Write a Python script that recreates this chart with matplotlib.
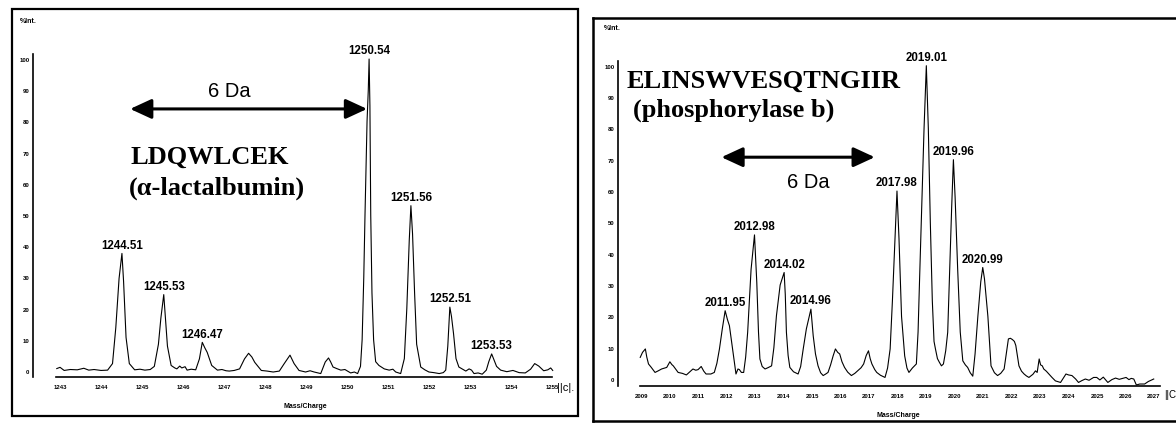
import numpy as np
import matplotlib
matplotlib.use("Agg")
import matplotlib.pyplot as plt
import matplotlib.lines as mlines
import matplotlib.patches as mpatches

# ─────────────────────────────────────────
# DATA
# ─────────────────────────────────────────
# alpha-lactalbumin peptide LDQWLCEK
lact_mz = [1242.92, 1243.00, 1243.10, 1243.25, 1243.42, 1243.58, 1243.70, 1243.83, 1244.00,
           1244.16, 1244.28, 1244.36, 1244.44, 1244.51, 1244.55, 1244.61, 1244.69, 1244.82,
           1244.95, 1245.07, 1245.20, 1245.30, 1245.40, 1245.46, 1245.53, 1245.57, 1245.62,
           1245.71, 1245.80, 1245.85, 1245.92, 1245.97, 1246.05, 1246.10, 1246.20, 1246.31,
           1246.40, 1246.47, 1246.53, 1246.59, 1246.70, 1246.84, 1246.95, 1247.05, 1247.13,
           1247.25, 1247.38, 1247.50, 1247.60, 1247.68, 1247.75, 1247.91, 1248.05, 1248.20,
           1248.35, 1248.47, 1248.61, 1248.71, 1248.83, 1248.99, 1249.10, 1249.20, 1249.36,
           1249.47, 1249.55, 1249.60, 1249.66, 1249.75, 1249.85, 1249.95, 1250.09, 1250.18,
           1250.26, 1250.33, 1250.37, 1250.41, 1250.44, 1250.49, 1250.52, 1250.54, 1250.56,
           1250.58, 1250.61, 1250.65, 1250.70, 1250.78, 1250.85, 1250.91, 1251.03, 1251.12,
           1251.19, 1251.31, 1251.40, 1251.46, 1251.52, 1251.56, 1251.60, 1251.65, 1251.70,
           1251.80, 1251.90, 1252.00, 1252.12, 1252.25, 1252.35, 1252.41, 1252.46, 1252.51,
           1252.55, 1252.60, 1252.66, 1252.73, 1252.82, 1252.90, 1252.98, 1253.04, 1253.10,
           1253.20, 1253.30, 1253.40, 1253.46, 1253.53, 1253.58, 1253.65, 1253.75, 1253.90,
           1254.05, 1254.20, 1254.35, 1254.48, 1254.58, 1254.68, 1254.80, 1254.90, 1254.97,
           1255.02]
lact_int = [0.8, 1.2, 0.2, 0.5, 0.4, 0.9, 0.3, 0.5, 0.2,
            0.3, 2.4, 13.9, 29.7, 37.7, 28.7, 10.8, 2.4, 0.4,
            0.6, 0.3, 0.5, 1.5, 8.6, 17.0, 24.5, 17.0, 8.0,
            1.8, 1.0, 0.7, 1.6, 1.0, 1.4, 0.3, 0.6, 0.4,
            3.9, 9.2, 7.5, 6.0, 1.8, 0.3, 0.5, 0.1, 0.0,
            0.2, 0.7, 3.9, 5.7, 4.5, 2.8, 0.2, 0.0, -0.3,
            0.0, 2.4, 5.1, 2.4, 0.2, -0.3, 0.1, -0.3, -0.8,
            2.9, 4.2, 3.0, 1.3, 0.8, 0.3, 0.5, -0.6, -0.3,
            -0.8, 1.5, 10.0, 30.0, 50.0, 80.0, 90.0, 100.0, 85.0,
            50.0, 25.0, 10.0, 3.0, 1.8, 1.2, 0.7, 0.3, 0.6,
            -0.3, -0.8, 4.0, 20.0, 42.0, 53.0, 44.0, 25.0, 8.6,
            1.3, 0.4, -0.3, -0.5, -0.8, -0.5, 0.3, 8.0, 20.5,
            17.5, 12.0, 4.0, 1.3, 0.6, 0.0, 0.7, 0.3, -0.8,
            -0.6, -1.0, 0.3, 3.0, 5.5, 3.8, 1.5, 0.3, -0.2,
            0.2, -0.5, -0.6, 0.6, 2.4, 1.6, 0.1, 0.4, 1.0,
            0.2]
lact_peaks = [1244.51, 1245.53, 1246.47, 1250.54, 1251.56, 1252.51, 1253.53]
lact_ticks = list(range(1243, 1256))

# phosphorylase b peptide ELINSWVESQTNGIIR
phos_mz = [2008.97, 2009.05, 2009.15, 2009.20, 2009.26, 2009.35, 2009.49, 2009.60, 2009.72,
           2009.90, 2010.01, 2010.08, 2010.13, 2010.30, 2010.45, 2010.59, 2010.70, 2010.82,
           2010.92, 2011.00, 2011.11, 2011.20, 2011.28, 2011.45, 2011.57, 2011.66, 2011.75,
           2011.85, 2011.95, 2012.03, 2012.10, 2012.21, 2012.33, 2012.40, 2012.45, 2012.52,
           2012.60, 2012.67, 2012.74, 2012.86, 2012.98, 2013.06, 2013.12, 2013.17, 2013.25,
           2013.35, 2013.45, 2013.58, 2013.66, 2013.75, 2013.88, 2014.02, 2014.06, 2014.10,
           2014.16, 2014.22, 2014.35, 2014.51, 2014.60, 2014.69, 2014.80, 2014.96, 2015.04,
           2015.12, 2015.21, 2015.30, 2015.39, 2015.48, 2015.56, 2015.65, 2015.74, 2015.82,
           2015.90, 2015.97, 2016.05, 2016.14, 2016.25, 2016.38, 2016.50, 2016.61, 2016.72,
           2016.81, 2016.90, 2016.98, 2017.04, 2017.10, 2017.20, 2017.27, 2017.40, 2017.56,
           2017.65, 2017.74, 2017.82, 2017.91, 2017.98, 2018.05, 2018.14, 2018.25, 2018.33,
           2018.40, 2018.52, 2018.66, 2018.72, 2018.77, 2018.85, 2018.93, 2019.01, 2019.08,
           2019.15, 2019.22, 2019.28, 2019.33, 2019.40, 2019.47, 2019.54, 2019.61, 2019.69,
           2019.76, 2019.83, 2019.90, 2019.96, 2020.02, 2020.11, 2020.20, 2020.29, 2020.38,
           2020.46, 2020.55, 2020.64, 2020.72, 2020.82, 2020.92, 2020.99, 2021.05, 2021.17,
           2021.28, 2021.40, 2021.51, 2021.62, 2021.74, 2021.80, 2021.89, 2021.96, 2022.03,
           2022.10, 2022.15, 2022.26, 2022.35, 2022.44, 2022.52, 2022.61, 2022.75, 2022.84,
           2022.90, 2022.97, 2023.02, 2023.08, 2023.13, 2023.22, 2023.31, 2023.42, 2023.54,
           2023.72, 2023.82, 2023.91, 2024.00, 2024.12, 2024.25, 2024.35, 2024.47, 2024.59,
           2024.72, 2024.88, 2024.99, 2025.10, 2025.22, 2025.38, 2025.52, 2025.65, 2025.78,
           2025.90, 2026.02, 2026.12, 2026.20, 2026.29, 2026.38, 2026.50, 2026.67, 2026.80,
           2026.99]
phos_int = [6.9, 8.5, 9.6, 7.0, 4.8, 3.8, 2.1, 2.6, 3.2,
            3.7, 5.5, 4.6, 4.2, 2.1, 1.8, 1.3, 2.2, 3.2,
            2.8, 3.0, 4.0, 2.5, 1.6, 1.6, 2.1, 5.0, 9.6,
            16.0, 21.8, 19.0, 17.0, 9.6, 1.6, 3.2, 3.0, 2.1,
            2.1, 7.0, 14.9, 35.0, 46.0, 30.9, 15.0, 6.4, 4.0,
            3.2, 3.6, 4.2, 10.0, 20.2, 30.0, 34.0, 27.0, 14.9,
            7.5, 3.7, 2.3, 1.6, 4.0, 9.6, 16.0, 22.3, 13.8,
            8.0, 4.2, 2.0, 1.1, 1.6, 2.1, 4.5, 7.4, 9.6,
            8.5, 8.0, 5.5, 3.7, 2.2, 1.1, 1.8, 2.7, 3.6,
            4.8, 7.5, 9.0, 6.5, 4.8, 3.0, 2.1, 1.2, 0.5,
            3.5, 9.6, 25.0, 45.0, 60.0, 45.0, 20.0, 7.4, 3.5,
            2.1, 3.5, 4.8, 15.0, 30.9, 55.0, 80.0, 100.0, 80.0,
            50.0, 25.0, 12.0, 9.6, 6.5, 5.3, 4.2, 4.8, 9.0,
            14.9, 35.0, 55.0, 70.0, 58.0, 35.0, 15.0, 5.8, 4.5,
            3.7, 2.0, 0.9, 8.0, 20.2, 31.0, 35.6, 32.0, 20.0,
            4.2, 2.0, 1.1, 1.8, 3.2, 7.0, 12.8, 13.0, 12.6,
            12.0, 10.7, 4.2, 2.5, 1.6, 1.0, 0.5, 1.5, 2.6,
            2.1, 6.4, 4.5, 4.2, 3.2, 2.5, 1.6, 0.5, -0.6,
            -1.1, 0.3, 1.6, 1.3, 1.1, 0.0, -1.1, -0.5, 0.0,
            -0.4, 0.5, 0.5, -0.3, 0.6, -1.1, -0.2, 0.3, -0.1,
            0.2, 0.5, -0.2, 0.2, 0.0, -1.9, -1.6, -1.6, -0.8,
            0.0]
phos_peaks = [2011.95, 2012.98, 2014.02, 2014.96, 2017.98, 2019.01, 2019.96, 2020.99]
phos_ticks = list(range(2009, 2028))

y_ticks = list(range(0, 101, 10))

# ─────────────────────────────────────────
# STYLE
# ─────────────────────────────────────────
W, H = 1176, 427
SERIF = ["Liberation Serif", "DejaVu Serif"]
SANS = ["Liberation Sans", "DejaVu Sans"]
NARROW = ["Liberation Sans Narrow", "Liberation Sans", "DejaVu Sans"]


def fx(px):
    return px / W


def fy(py):
    return 1 - py / H


def draw_spectrum(ax, mz, inten, peaks, ticks, xlim, ylim, xspan):
    ax.plot(mz, inten, color="black", lw=0.8)
    ax.set_xlim(*xlim)
    ax.set_ylim(*ylim)
    ax.patch.set_alpha(0)
    for s in ("top", "right"):
        ax.spines[s].set_visible(False)
    ax.spines["left"].set_linewidth(1.2)
    ax.spines["bottom"].set_linewidth(1.2)
    ax.spines["bottom"].set_bounds(*xspan)

    ax.set_xticks(ticks)
    ax.set_xticklabels([str(t) for t in ticks], fontsize=4.3,
                       fontweight="bold", family=NARROW)
    ax.set_yticks(y_ticks)
    ax.set_yticklabels([str(t) for t in y_ticks], fontsize=4.3,
                       fontweight="bold", family=NARROW)
    ax.tick_params(axis="x", length=0, pad=5)
    ax.tick_params(axis="y", length=0, pad=2.5)

    mz_arr = np.asarray(mz)
    for p in peaks:
        i = int(np.argmin(np.abs(mz_arr - p)))
        ax.annotate(f"{p:.2f}", xy=(mz[i], inten[i]), xytext=(0, 2),
                    textcoords="offset points", ha="center", va="bottom",
                    fontsize=8.3, fontweight="bold", family=NARROW)


def double_arrow(ax, x0, x1, y):
    ax.annotate("", xy=(x1, y), xytext=(x0, y),
                arrowprops=dict(arrowstyle="<|-|>,head_length=0.65,head_width=0.3",
                                mutation_scale=20, lw=2.2, color="black",
                                shrinkA=0, shrinkB=0))


fig = plt.figure(figsize=(W / 100, H / 100), dpi=100)

# panel frames
fig.patches.append(mpatches.Rectangle((fx(12), fy(417)), fx(578) - fx(12), fy(10) - fy(417),
                                      transform=fig.transFigure, fill=False,
                                      lw=1.6, edgecolor="black"))
for xs, ys in [([593, 593], [18.5, 422]), ([593, 1176], [18.5, 18.5]), ([593, 1176], [422, 422])]:
    fig.lines.append(mlines.Line2D([fx(v) for v in xs], [fy(v) for v in ys],
                                   transform=fig.transFigure, color="black", lw=1.8))

# ── left panel
ax1 = fig.add_axes([fx(33), fy(378), fx(556) - fx(33), fy(55) - fy(378)])
draw_spectrum(ax1, lact_mz, lact_int, lact_peaks, lact_ticks,
              (1242.34, 1255.10), (-1.9, 101.6), (1242.91, 1255.0))
double_arrow(ax1, 1244.71, 1250.49, 84)
ax1.text(1247.13, 89.8, "6 Da", ha="center", va="center", fontsize=14.5, family=SANS)
ax1.text(1244.72, 68.9, "LDQWLCEK", ha="left", va="center", fontsize=19,
         fontweight="bold", family=SERIF)
ax1.text(1244.68, 59.0, "(\u03b1-lactalbumin)", ha="left", va="center", fontsize=19,
         fontweight="bold", family=SERIF)

# ── right panel
ax2 = fig.add_axes([fx(618), fy(386.9), fx(1160) - fx(618), fy(61.7) - fy(386.9)])
draw_spectrum(ax2, phos_mz, phos_int, phos_peaks, phos_ticks,
              (2008.19, 2027.21), (-2.2, 101.6), (2008.97, 2027.2))
double_arrow(ax2, 2011.82, 2017.20, 70.8)
ax2.text(2014.86, 63.0, "6 Da", ha="center", va="center", fontsize=14.5, family=SANS)
ax2.text(2008.48, 95.2, "ELINSWVESQTNGIIR", ha="left", va="center", fontsize=19,
         fontweight="bold", family=SERIF)
ax2.text(2008.70, 86.2, "(phosphorylase b)", ha="left", va="center", fontsize=19,
         fontweight="bold", family=SERIF)

# small instrument texts
small = dict(fontsize=5, fontweight="bold", family=NARROW, ha="center", va="center")
fig.text(fx(28), fy(21.7), "%Int.", **small)
fig.text(fx(612), fy(28.3), "%Int.", **small)
fig.text(fx(305), fy(407), "Mass/Charge", **small)
fig.text(fx(898), fy(416), "Mass/Charge", **small)
fig.text(fx(566), fy(388), "||c|.", fontsize=8, family=SANS, ha="center", va="center")
fig.text(fx(1176), fy(395), "||C", fontsize=7, family=SANS, ha="right", va="center")

fig.savefig("out.png", dpi=100)
